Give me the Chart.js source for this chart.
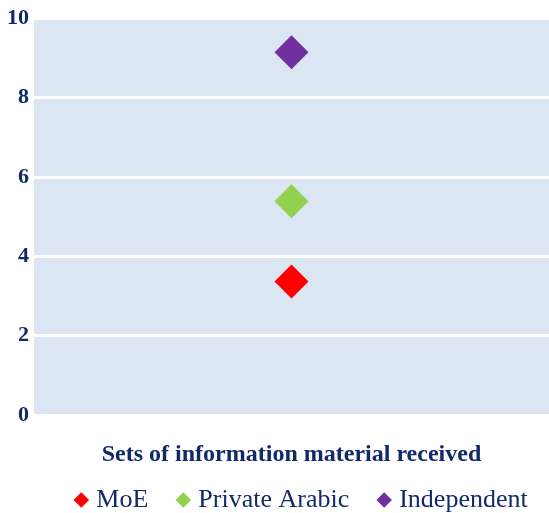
<!DOCTYPE html>
<html>
<head>
<meta charset="utf-8">
<script src="https://cdn.jsdelivr.net/npm/chart.js@4.4.1/dist/chart.umd.min.js"></script>
<style>
  html, body { margin: 0; padding: 0; background: #ffffff; }
  #wrap { width: 549px; height: 513px; }
</style>
</head>
<body>
<div id="wrap"><canvas id="myChart"></canvas></div>
<script>
"use strict";

// chart data
const categories = [''];
const seriesNames = ['MoE', 'Private Arabic', 'Independent'];
const seriesValues = [[3.37], [5.39], [9.14]];
const seriesColors = ['#ff0000', '#92d050', '#7030a0'];
const yTicks = [0, 2, 4, 6, 8, 10];
const xTitle = 'Sets of information material received';

const textColor = '#112a68';
const serif = '"Liberation Serif", "Times New Roman", serif';

// fill the plot area with the pale blue
const plotBackground = {
    id: 'plotBackground',
    beforeDraw(chart) {
        const { ctx, chartArea } = chart;
        ctx.save();
        ctx.fillStyle = '#dce6f2';
        ctx.fillRect(chartArea.left, chartArea.top, chartArea.right - chartArea.left, chartArea.bottom - chartArea.top);
        ctx.restore();
    }
};

// legend sits a bit right of the canvas centre in the original
const legendShift = {
    id: 'legendShift',
    afterLayout(chart) {
        chart.legend.left += 28;
        chart.legend.right += 28;
    }
};

const ctx = document.getElementById('myChart');
const myChart = new Chart(ctx, {
    type: 'line',
    data: {
        labels: categories,
        datasets: seriesNames.map(function (name, i) {
            return {
                label: name,
                data: seriesValues[i],
                showLine: false,
                pointStyle: 'rectRot',
                pointRadius: 17,
                pointHoverRadius: 17,
                pointBorderWidth: 0,
                backgroundColor: seriesColors[i],
                borderColor: seriesColors[i]
            };
        })
    },
    options: {
        responsive: true,
        maintainAspectRatio: false,
        animation: false,
        events: [],
        layout: {
            autoPadding: false,
            padding: { top: 4, right: 0, left: 2, bottom: -10 }
        },
        plugins: {
            legend: {
                position: 'bottom',
                labels: {
                    usePointStyle: true,
                    boxWidth: 4,
                    boxHeight: 11,
                    padding: 33,
                    color: textColor,
                    font: { family: serif, size: 26 }
                }
            },
            tooltip: { enabled: false }
        },
        scales: {
            x: {
                offset: true,
                grid: { display: false, drawTicks: false },
                border: { display: false },
                ticks: { display: false },
                title: {
                    display: true,
                    text: xTitle,
                    color: textColor,
                    font: { family: serif, size: 24, weight: 'bold' },
                    padding: { top: 25, bottom: -15 }
                }
            },
            y: {
                min: yTicks[0],
                max: yTicks[yTicks.length - 1],
                afterBuildTicks: function (axis) {
                    axis.ticks = yTicks.map(function (v) { return { value: v }; });
                },
                grid: { color: '#ffffff', lineWidth: 3, drawTicks: false },
                border: { display: false },
                ticks: {
                    padding: 5,
                    color: textColor,
                    font: { family: serif, size: 22, weight: 'bold' }
                }
            }
        }
    },
    plugins: [plotBackground, legendShift]
});
</script>
</body>
</html>
